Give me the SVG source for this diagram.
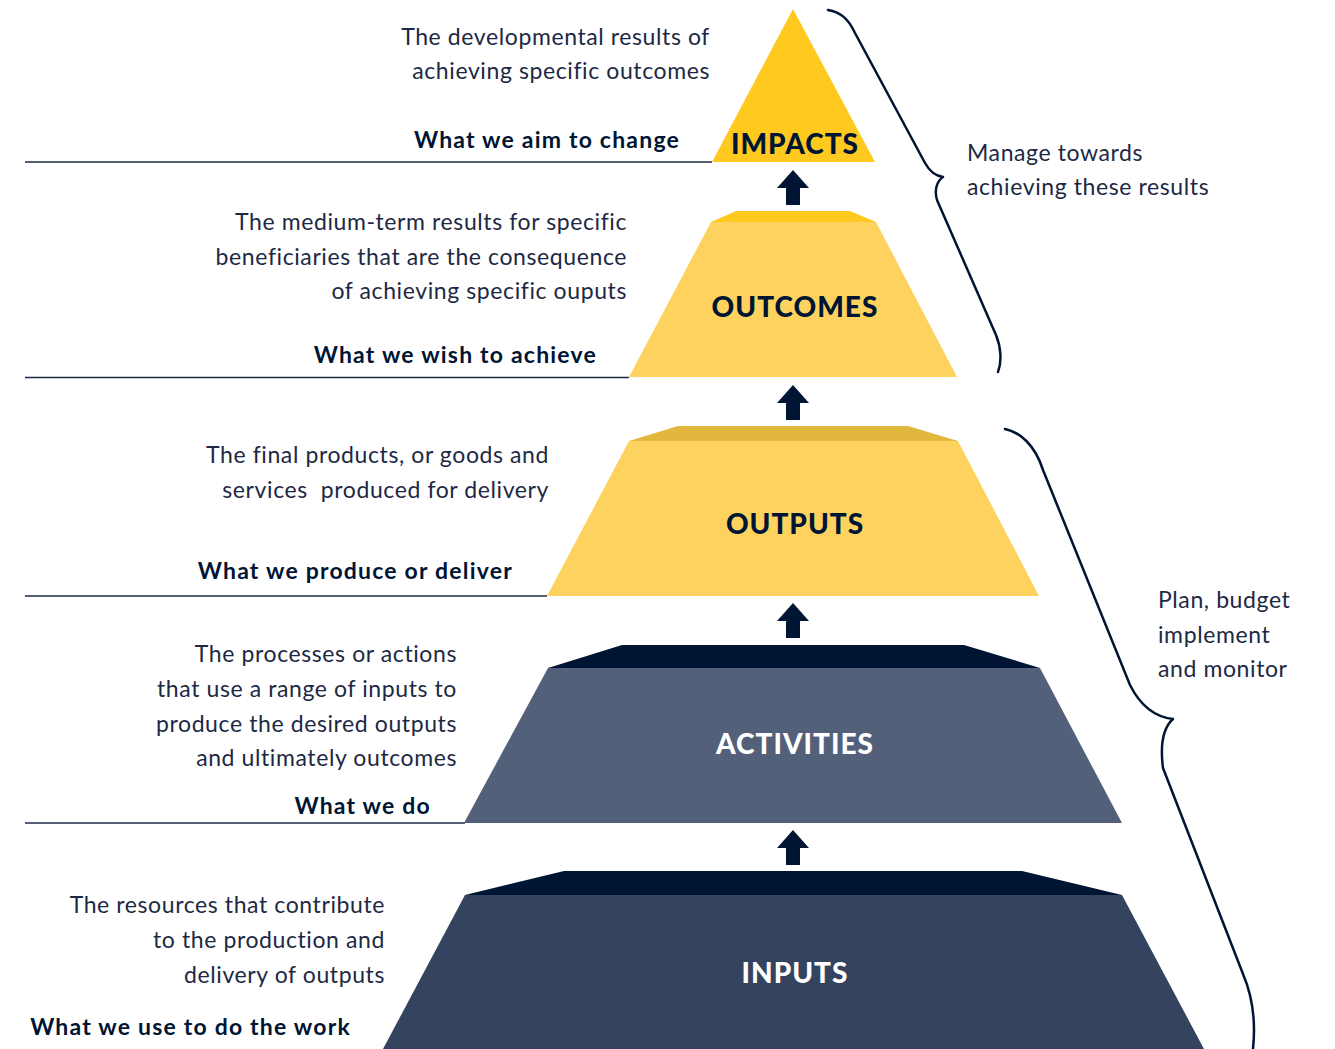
<svg xmlns="http://www.w3.org/2000/svg" width="1335" height="1049" viewBox="0 0 1335 1049">
<style>
.desc{font-family:Lato,"Noto Sans","Liberation Sans",sans-serif;font-size:23px;letter-spacing:0.6px;fill:#1d2944;text-anchor:end}
.what{font-family:Lato,"Noto Sans","Liberation Sans",sans-serif;font-size:23px;letter-spacing:1.2px;font-weight:bold;fill:#001533;text-anchor:end}
.side{font-family:Lato,"Noto Sans","Liberation Sans",sans-serif;font-size:23px;letter-spacing:0.6px;fill:#1d2944}
.lbl{font-family:Lato,"Noto Sans","Liberation Sans",sans-serif;font-size:28px;letter-spacing:1px;font-weight:900;fill:#001533;text-anchor:middle}
.lblw{fill:#ffffff}
.rule{stroke:#1d2944;stroke-width:1.3;fill:none}
.brace{stroke:#001533;stroke-width:2.5;fill:none;stroke-linecap:round;stroke-linejoin:round}
.arrow{fill:#001533}
</style>
<defs>
<path id="arr" d="M0,0 L16,18 L7,18 L7,35 L-7,35 L-7,18 L-16,18 Z"/>
</defs>
<rect width="1335" height="1049" fill="#ffffff"/>

<g id="rules">
<line class="rule" x1="25" y1="162" x2="712" y2="162"/>
<line class="rule" x1="25" y1="377.5" x2="629" y2="377.5"/>
<line class="rule" x1="25" y1="596" x2="547" y2="596"/>
<line class="rule" x1="25" y1="823" x2="465" y2="823"/>
</g>

<g id="impacts">
<polygon points="793,9 875,162 712,162" fill="#FFC91F"/>
<text class="lbl" x="795" y="154">IMPACTS</text>
<text class="desc" x="710" y="45">The developmental results of</text>
<text class="desc" x="710" y="79">achieving specific outcomes</text>
<text class="what" x="680" y="148">What we aim to change</text>
</g>

<g id="outcomes">
<polygon points="736,211 850,211 876,222 711,222" fill="#FFC91F"/>
<polygon points="711,222 876,222 957,377 629,377" fill="#FDD25E"/>
<text class="lbl" x="795" y="317">OUTCOMES</text>
<text class="desc" x="627" y="230">The medium-term results for specific</text>
<text class="desc" x="627" y="265">beneficiaries that are the consequence</text>
<text class="desc" x="627" y="299">of achieving specific ouputs</text>
<text class="what" x="597" y="363">What we wish to achieve</text>
</g>

<g id="outputs">
<polygon points="678,426 908,426 958,441 629,441" fill="#E2B73D"/>
<polygon points="629,441 958,441 1039,596 547,596" fill="#FDD25E"/>
<text class="lbl" x="795" y="534">OUTPUTS</text>
<text class="desc" x="549" y="463">The final products, or goods and</text>
<text class="desc" x="549" y="498" xml:space="preserve">services  produced for delivery</text>
<text class="what" x="513" y="579">What we produce or deliver</text>
</g>

<g id="activities">
<polygon points="622,645 964,645 1040,668 548,668" fill="#001533"/>
<polygon points="548,668 1040,668 1122,823 464,823" fill="#536079"/>
<text class="lbl lblw" x="795" y="754">ACTIVITIES</text>
<text class="desc" x="457" y="662">The processes or actions</text>
<text class="desc" x="457" y="697">that use a range of inputs to</text>
<text class="desc" x="457" y="732">produce the desired outputs</text>
<text class="desc" x="457" y="766">and ultimately outcomes</text>
<text class="what" x="431" y="814">What we do</text>
</g>

<g id="inputs">
<polygon points="564,871 1022,871 1122,895 465,895" fill="#001533"/>
<polygon points="465,895 1122,895 1204,1049 383,1049" fill="#34445E"/>
<text class="lbl lblw" x="795" y="983">INPUTS</text>
<text class="desc" x="385" y="913">The resources that contribute</text>
<text class="desc" x="385" y="948">to the production and</text>
<text class="desc" x="385" y="983">delivery of outputs</text>
<text class="what" x="351" y="1035">What we use to do the work</text>
</g>

<g id="manage">
<text class="side" x="967" y="161">Manage towards</text>
<text class="side" x="967" y="195">achieving these results</text>
</g>

<g id="plan">
<text class="side" x="1158" y="608">Plan, budget</text>
<text class="side" x="1158" y="643">implement</text>
<text class="side" x="1158" y="677">and monitor</text>
</g>

<g id="connectors">
<use href="#arr" class="arrow" x="793" y="170"/>
<use href="#arr" class="arrow" x="793" y="385"/>
<use href="#arr" class="arrow" x="793" y="603"/>
<use href="#arr" class="arrow" x="793" y="830"/>
<path class="brace" d="M828,10 C840,12 848,18 855,33 L925,163 C930,172 936,176 943,177 C937,181 934,190 937,200 L996,335 C1001,347 1002,362 998,372"/>
<path class="brace" d="M1005,429 C1020,432 1035,445 1043,470 L1130,685 C1140,705 1155,717 1173,719 C1163,728 1160,745 1163,768 L1243,974 C1252,995 1256,1020 1253,1049"/>
</g>
</svg>
